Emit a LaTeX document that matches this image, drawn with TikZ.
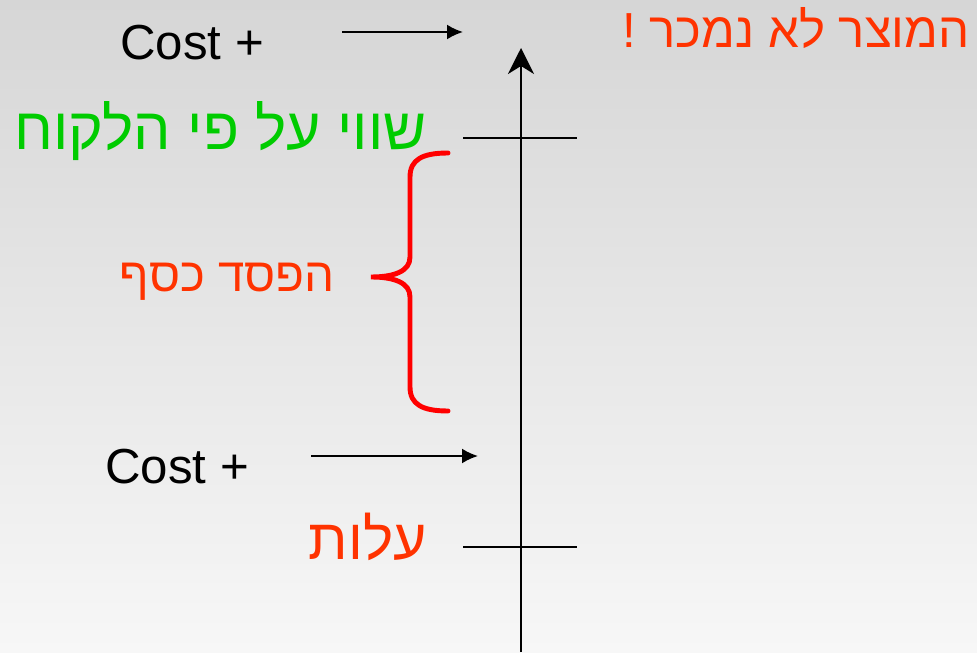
\documentclass[tikz,border=0pt]{standalone}
\usepackage{fontspec}
\setmainfont{Liberation Sans}
\newfontfamily\hebfont[Script=Hebrew]{Liberation Sans}
\TeXXeTstate=1
\usetikzlibrary{arrows.meta}
\definecolor{lossred}{RGB}{255,51,0}
\definecolor{valuegreen}{RGB}{0,204,0}
\definecolor{bracered}{RGB}{255,0,0}
\definecolor{bgtop}{RGB}{214,214,214}
\definecolor{bgbottom}{RGB}{247,247,247}

\begin{document}
\begin{tikzpicture}
    \tikzset{
        axisline/.style={line width=1.2pt},
        pointer/.style={line width=1.2pt, -{Latex[length=0.32cm, width=0.3cm]}},
        lbl/.style={inner sep=0pt, anchor=base east},
    }
    % background
    \fill[top color=bgtop, bottom color=bgbottom] (0,0) rectangle (19.54,13.04);
    \useasboundingbox (0,0) rectangle (19.54,13.04);

    % axis and ticks
    \coordinate (axisfoot) at (10.42,0);
    \coordinate (axistop) at (10.42,12.08);
    \draw[axisline, -{Stealth[length=0.52cm, width=0.52cm, inset=0.16cm]}] (axisfoot) -- (axistop);
    \coordinate (valtickl) at (9.26,10.28);
    \coordinate (valtickr) at (11.54,10.28);
    \coordinate (costtickl) at (9.26,2.10);
    \coordinate (costtickr) at (11.54,2.10);
    \draw[axisline] (valtickl) -- (valtickr);
    \draw[axisline] (costtickl) -- (costtickr);

    % labels
    \node[lbl, anchor=base, font=\fontsize{28}{30}\selectfont] (costhigh) at (3.84,11.84) {Cost +};
    \node[lbl, anchor=base, font=\fontsize{28}{30}\selectfont] (costlow) at (3.54,3.38) {Cost +};
    \node[lbl, text=lossred, font=\hebfont\fontsize{28}{30}\selectfont] (notsold) at (19.40,12.08) {\beginR המוצר לא נמכר !\endR};
    \node[lbl, text=valuegreen, font=\hebfont\fontsize{33.6}{36}\selectfont] (value) at (8.54,10.04) {\beginR שווי על פי הלקוח\endR};
    \node[lbl, text=lossred, font=\hebfont\fontsize{27}{30}\selectfont] (loss) at (6.70,7.20) {\beginR הפסד כסף\endR};
    \node[lbl, text=lossred, font=\hebfont\fontsize{32.5}{35}\selectfont] (cost) at (8.54,1.86) {\beginR עלות\endR};

    % arrows
    \coordinate (highstart) at (6.84,12.40);
    \coordinate (highend) at (9.26,12.40);
    \coordinate (lowstart) at (6.22,3.92);
    \coordinate (lowend) at (9.56,3.92);
    \draw[pointer] (highstart) -- (highend);
    \draw[pointer] (lowstart) -- (lowend);

    % brace
    \draw[bracered, line width=2.8pt, line cap=round] (8.96,9.98) .. controls (8.45,9.98) and (8.20,9.85) .. (8.20,9.50) -- (8.20,7.90) .. controls (8.20,7.62) and (7.90,7.50) .. (7.42,7.50) .. controls (7.90,7.50) and (8.20,7.38) .. (8.20,7.10) -- (8.20,5.30) .. controls (8.20,4.95) and (8.45,4.82) .. (8.96,4.82);
\end{tikzpicture}
\end{document}
